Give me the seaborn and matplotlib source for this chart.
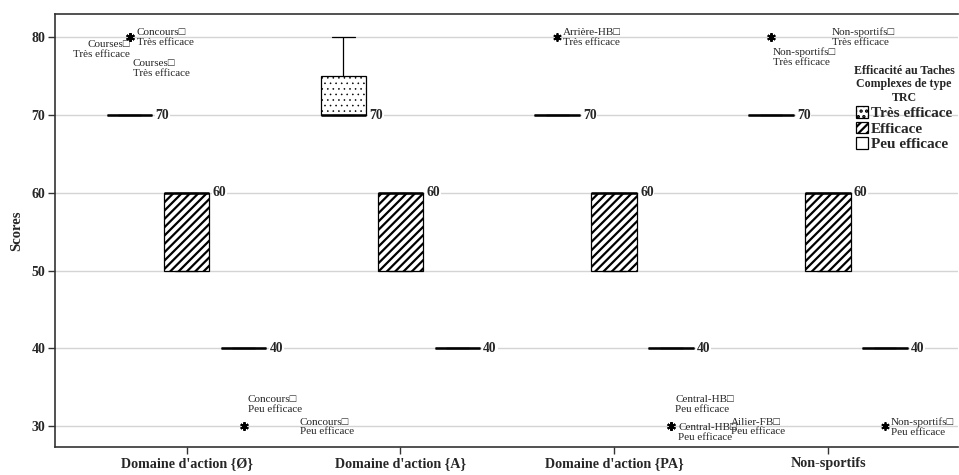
import numpy as np
import pandas as pd
import seaborn as sns
import matplotlib
import matplotlib.pyplot as plt
from matplotlib.patches import Patch

# ---------------- data ----------------
groups = ["Domaine d'action {Ø}", "Domaine d'action {A}", "Domaine d'action {PA}", "Non-sportifs"]
hues = ["Très efficace", "Efficace", "Peu efficace"]

tres_efficace = [
    [70] * 12 + [80] * 3,
    [70, 70, 70, 70, 75, 75, 80],
    [70] * 8 + [80],
    [70] * 8 + [80] * 2,
]
efficace = [
    [50, 50, 50, 60, 60, 60, 60],
    [50, 50, 50, 60, 60, 60, 60],
    [50, 50, 50, 60, 60, 60, 60],
    [50, 50, 50, 60, 60, 60, 60],
]
peu_efficace = [
    [30, 30] + [40] * 8,
    [40] * 6,
    [30] * 3 + [40] * 12,
    [30] + [40] * 6,
]
y_ticks = [30, 40, 50, 60, 70, 80]

# outlier labels: (group, hue, value, text, dx px, dy px, ha, va)
outlier_labels = [
    (0, 0, 80, "Concours□\nTrès efficace", 7, 0, "left", "center"),
    (0, 0, 80, "Courses□\nTrès efficace", 0, -3, "right", "top"),
    (0, 0, 80, "Courses□\nTrès efficace", 3, -22, "left", "top"),
    (0, 2, 30, "Concours□\nPeu efficace", 4, 12, "left", "bottom"),
    (0, 2, 30, "Concours□\nPeu efficace", 56, -1, "left", "center"),
    (2, 0, 80, "Arrière-HB□\nTrès efficace", 6, 0, "left", "center"),
    (2, 2, 30, "Central-HB□\nPeu efficace", 4, 12, "left", "bottom"),
    (2, 2, 30, "Central-HB□\nPeu efficace", 7, 3, "left", "top"),
    (2, 2, 30, "Ailier-FB□\nPeu efficace", 60, -1, "left", "center"),
    (3, 0, 80, "Non-sportifs□\nTrès efficace", 61, 0, "left", "center"),
    (3, 0, 80, "Non-sportifs□\nTrès efficace", 2, -10, "left", "top"),
    (3, 2, 30, "Non-sportifs□\nPeu efficace", 6, -1, "left", "center"),
]

rows = []
for hname, series in zip(hues, [tres_efficace, efficace, peu_efficace]):
    for g, vals in zip(groups, series):
        for v in vals:
            rows.append({"Groupe": g, "Efficacité": hname, "Scores": v})
df = pd.DataFrame(rows)

# ---------------- style ----------------
sns.set_theme(style="white")
serif = ["Liberation Serif", "DejaVu Sans"]
plt.rcParams["font.family"] = serif
plt.rcParams["hatch.linewidth"] = 1.6
plt.rcParams["hatch.color"] = "black"

fig = plt.figure(figsize=(9.59, 4.75), dpi=100)
ax = fig.add_axes([55 / 959, 28 / 475, (958 - 55) / 959, (447 - 14) / 475])

ax.yaxis.grid(True, color="#d4d4d4", linewidth=1.0, zorder=0)
ax.set_axisbelow(True)

width = 0.8
gap = 0.2
sns.boxplot(
    data=df, x="Groupe", y="Scores", hue="Efficacité", order=groups, hue_order=hues,
    palette=["white"] * 3, linecolor="black", linewidth=0.9, width=width, gap=gap,
    whis=1.5, legend=False, ax=ax,
    flierprops=dict(marker=(6, 2, 0), markerfacecolor="black", markeredgecolor="black",
                    markersize=6, markeredgewidth=1.3, linestyle="none"),
    medianprops=dict(color="black", linewidth=1.8),
)

hatches = ["...", "////", ""]
hatch_lws = [0.4, 1.6, 1.0]
n_h = len(hues)
step = width / n_h
offsets = [(-1 + i) * step for i in range(n_h)]
half_box = step * (1 - gap) / 2


def style_patch(p, idx):
    p.set_hatch(hatches[idx])
    if hasattr(p, "set_hatch_linewidth"):
        p.set_hatch_linewidth(hatch_lws[idx])
    p.set_facecolor("white")
    p.set_edgecolor("black")


for p in ax.patches:
    verts = p.get_path().vertices
    xc = (verts[:, 0].min() + verts[:, 0].max()) / 2
    off = xc - round(xc)
    idx = int(np.argmin([abs(off - o) for o in offsets]))
    style_patch(p, idx)

# median labels
for hi, series in enumerate([tres_efficace, efficace, peu_efficace]):
    for gi, vals in enumerate(series):
        med = np.median(vals)
        x = gi + offsets[hi] + half_box
        ax.annotate(f"{med:.0f}", xy=(x, med), xytext=(3, 0), textcoords="offset pixels",
                    ha="left", va="center", fontsize=9.8, fontweight="bold",
                    family=serif, zorder=6,
                    bbox=dict(facecolor="white", edgecolor="none", pad=0.6))

# outlier labels
for gi, hi, val, txt, dx, dy, ha, va in outlier_labels:
    ax.annotate(txt, xy=(gi + offsets[hi], val), xytext=(dx, dy),
                textcoords="offset pixels", ha=ha, va=va, fontsize=8,
                family=serif, linespacing=1.1, zorder=7)

ax.set_xlim(-0.616, 3.608)
ax.set_ylim(27.3, 83)
ax.set_yticks(y_ticks)
ax.set_yticklabels([str(t) for t in y_ticks], fontsize=10, fontweight="bold")
ax.set_xticks(range(len(groups)))
ax.set_xticklabels(groups, fontsize=10.2, fontweight="bold")
ax.set_xlabel("")
ax.set_ylabel("Scores", fontsize=10.5, fontweight="bold", labelpad=6)
ax.tick_params(axis="both", which="both", direction="out", length=5, width=1,
               color="#333333", left=True, bottom=True, pad=2)

for s in ["left", "bottom", "top"]:
    ax.spines[s].set_visible(True)
    ax.spines[s].set_color("#333333")
    ax.spines[s].set_linewidth(1.2)
ax.spines["right"].set_visible(False)

handles = []
for i, h in enumerate(hatches):
    hp = Patch(facecolor="white", edgecolor="black", hatch=h, linewidth=0.9)
    if hasattr(hp, "set_hatch_linewidth"):
        hp.set_hatch_linewidth(hatch_lws[i])
    handles.append(hp)
leg = ax.legend(handles, hues, title="Efficacité au Taches\nComplexes de type\nTRC",
                loc="upper center", bbox_to_anchor=(904 / 959, 1 - 54 / 475),
                bbox_transform=fig.transFigure, frameon=False,
                prop=dict(family=serif, weight="bold", size=11),
                title_fontproperties=dict(family=serif, weight="bold", size=8.6),
                handlelength=0.8, handleheight=0.8, handletextpad=0.2,
                labelspacing=0.1, borderpad=0.2)
leg.get_title().set_multialignment("center")

fig.savefig("out.png", dpi=100)
